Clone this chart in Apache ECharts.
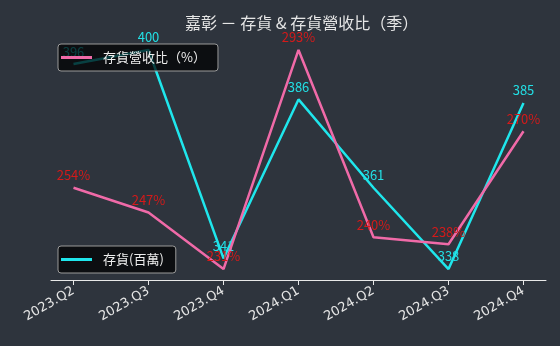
<!DOCTYPE html>
<html>
<head>
<meta charset="utf-8">
<script src="https://cdn.jsdelivr.net/npm/echarts@6/dist/echarts.min.js"></script>
<style>html,body{margin:0;padding:0;background:#2e343d;}#c{width:560px;height:346px;}</style>
</head>
<body>
<div id="c"></div>
<script>
const categories = ['2023.Q2','2023.Q3','2023.Q4','2024.Q1','2024.Q2','2024.Q3','2024.Q4'];
const inventory = [396, 400, 341, 386, 361, 338, 385];
const ratio = [254, 247, 231, 293, 240, 238, 270];
const titleText = '嘉彰 － 存貨 & 存貨營收比（季）';
const invName = '存貨(百萬)';
const ratioName = '存貨營收比（%）';
const invColor = '#1fe6ec';
const ratioColor = '#f06aa8';

const font = '"Noto Sans CJK TC", "Noto Sans", sans-serif';
const pad = (v) => (v.max - v.min) * 0.05;
const chart = echarts.init(document.getElementById('c'), null, {renderer: 'canvas'});
const idx = categories.map((_, i) => i);
const legendBase = {
  orient: 'vertical', icon: 'rect',
  backgroundColor: 'rgba(0,0,0,0.72)', borderColor: '#9a9a9a', borderWidth: 1, borderRadius: 3,
  padding: [7, 12, 7, 3], itemWidth: 31, itemHeight: 3, itemGap: 10,
  textStyle: {color: '#eeeeee', fontSize: 13, fontFamily: font, padding: [0, 0, 0, 6]}
};
chart.setOption({
  backgroundColor: '#2e343d',
  animation: false,
  textStyle: {fontFamily: font},
  title: {
    text: titleText, left: 180, top: 10,
    textStyle: {color: '#e6e6e6', fontSize: 16, fontWeight: 'normal', fontFamily: font}
  },
  legend: [
    Object.assign({}, legendBase, {data: [{name: ratioName, itemStyle: {color: ratioColor, opacity: 1}}], left: 58, top: 44}),
    Object.assign({}, legendBase, {data: [{name: invName, itemStyle: {color: invColor, opacity: 1}}], left: 58, top: 246})
  ],
  grid: {left: 51, right: 14, top: 39, bottom: 66, containLabel: false},
  xAxis: {
    type: 'value', min: -0.3, max: 6.3,
    splitLine: {show: false},
    axisLine: {show: true, lineStyle: {color: '#e8e8e8', width: 1}},
    axisTick: {show: true, length: 5, lineStyle: {color: '#e8e8e8'}, customValues: idx},
    axisLabel: {
      customValues: idx, rotate: 30, color: '#e6e6e6', fontSize: 13, margin: 10,
      fontFamily: '"DejaVu Sans", sans-serif',
      formatter: (v) => categories[Math.round(v)] || ''
    }
  },
  yAxis: [
    {type: 'value', show: false, splitLine: {show: false}, scale: true,
      min: (v) => v.min - pad(v), max: (v) => v.max + pad(v)},
    {type: 'value', show: false, splitLine: {show: false}, scale: true,
      min: (v) => v.min - pad(v), max: (v) => v.max + pad(v)}
  ],
  series: [
    {
      name: invName, type: 'line', yAxisIndex: 0,
      data: inventory.map((v, i) => [i, v]),
      symbol: 'circle', symbolSize: 0, showSymbol: true,
      itemStyle: {color: invColor},
      color: invColor,
      lineStyle: {width: 2.5, color: invColor},
      label: {show: true, position: 'top', distance: 6, color: '#22e0e6', fontSize: 13, fontFamily: font,
        formatter: (p) => String(p.value[1])},
      z: 2
    },
    {
      name: ratioName, type: 'line', yAxisIndex: 1,
      data: ratio.map((v, i) => [i, v]),
      symbol: 'circle', symbolSize: 0, showSymbol: true,
      itemStyle: {color: ratioColor},
      color: ratioColor,
      lineStyle: {width: 2.5, color: ratioColor},
      label: {show: true, position: 'top', distance: 6, color: '#d41a1a', fontSize: 13, fontFamily: font,
        formatter: (p) => p.value[1] + '%'},
      z: 3
    }
  ]
});
</script>
</body>
</html>
